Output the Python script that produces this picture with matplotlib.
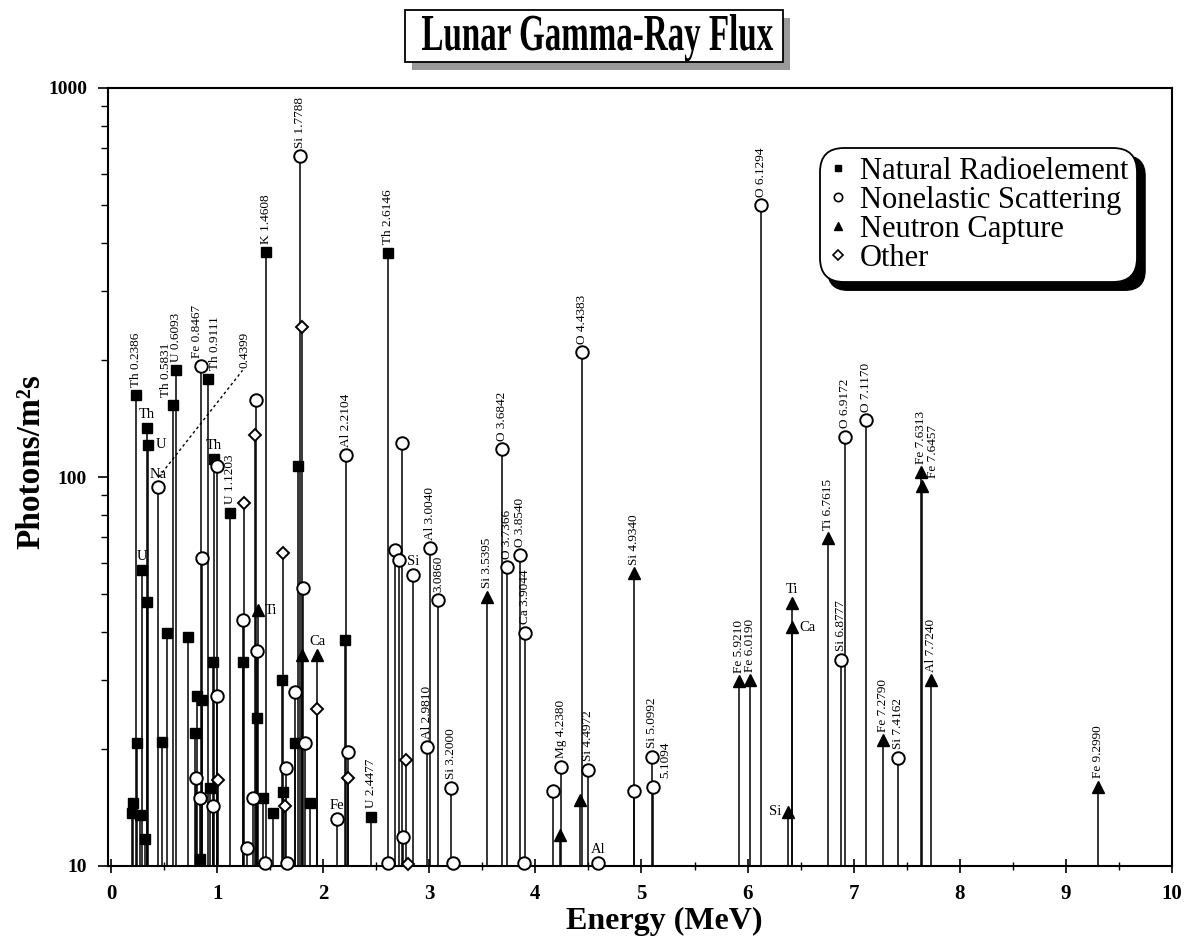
import numpy as np
import matplotlib.pyplot as plt
from matplotlib.lines import Line2D
from matplotlib.patches import FancyBboxPatch, Rectangle, PathPatch
from matplotlib.textpath import TextPath
from matplotlib.font_manager import FontProperties
from matplotlib.transforms import Affine2D
from matplotlib.ticker import NullFormatter, LogLocator

plt.rcParams['font.family'] = ['Liberation Serif', 'DejaVu Serif']

# natural radioelement lines (squares)
rad_e = [0.2386, 0.3384, 0.3519, 0.5831, 0.6093, 0.9111, 0.9689, 1.1203, 1.4608, 1.7645,
         2.2041, 2.4477, 2.6146, 0.2952, 0.34, 0.53, 0.73, 0.81, 0.86, 0.96, 0.79, 0.25,
         0.48, 0.21, 0.20, 0.27, 0.32, 0.84, 0.93, 1.24, 1.38, 1.61, 1.62, 1.73, 1.43, 1.53, 1.88]
rad_f = [162, 134, 121, 153, 188, 179, 111, 81, 378, 107,
         38, 13.4, 377, 57.7, 47.7, 39.7, 38.8, 27.4, 26.7, 33.4, 22, 20.7,
         20.8, 14.5, 13.7, 13.5, 11.7, 10.4, 15.9, 33.4, 24, 30, 15.5, 20.7, 15, 13.7, 14.5]

# nonelastic scattering lines (open circles)
scat_e = [0.4399, 0.8467, 1.7788, 2.2104, 2.9810, 3.0040, 3.0860, 3.2000, 3.6842, 3.7366,
          3.8540, 3.9044, 4.2380, 4.4383, 4.4972, 5.0992, 5.1094, 6.1294, 6.8777, 6.9172,
          7.1170, 7.4162, 1.37, 1.00, 0.86, 1.24, 1.38, 1.00, 1.81, 1.73, 1.83, 1.65, 0.80,
          0.84, 0.96, 1.34, 1.28, 1.45, 1.66, 2.13, 2.23, 2.74, 2.68, 2.71, 2.85, 2.75, 2.61,
          3.22, 3.89, 4.17, 4.59, 4.93]
scat_f = [94, 193, 668, 114, 20.2, 65.6, 48.3, 15.9, 118, 58.7,
          63, 39.8, 18, 209, 17.7, 19.1, 16.0, 500, 33.9, 127,
          140, 19.0, 158, 107, 62, 43, 35.7, 27.4, 51.8, 28, 20.7, 17.9, 16.8,
          15, 14.3, 15, 11.1, 10.2, 10.2, 13.2, 19.6, 122, 64.9, 61.2, 56, 11.9, 10.2,
          10.2, 10.2, 15.6, 10.2, 15.6]

# neutron capture lines (filled triangles)
cap_e = [1.3815, 1.80, 1.9427, 3.5395, 4.23, 4.42, 4.9340, 5.9210, 6.0190, 6.3796,
         6.4185, 6.4195, 6.7615, 7.2790, 7.6313, 7.6457, 7.7240, 9.2990]
cap_f = [45.5, 34.9, 34.9, 49.2, 12.0, 14.8, 56.6, 29.9, 30.0, 13.8,
         47.5, 41.1, 69.7, 21.1, 103, 94.9, 30.0, 16.0]

# other lines (open diamonds)
oth_e = [1.80, 1.36, 1.25, 1.62, 1.94, 1.01, 2.23, 2.78, 2.80, 1.64]
oth_f = [243, 128, 85.7, 63.8, 25.3, 16.6, 16.8, 18.7, 10.1, 14.3]

# rotated line labels: (energy, flux of marker, text)
vlabels = [
    (0.2386, 162, "Th 0.2386"), (0.5831, 153, "Th 0.5831"), (0.6093, 188, "U 0.6093"),
    (0.8467, 193, "Fe 0.8467"), (0.9111, 179, "Th 0.9111"), (1.1203, 81, "U 1.1203"),
    (1.4608, 378, "K 1.4608"), (1.7788, 668, "Si 1.7788"), (2.2104, 114, "Al 2.2104"),
    (2.4477, 13.4, "U 2.4477"), (2.6146, 377, "Th 2.6146"), (2.9810, 20.2, "Al 2.9810"),
    (3.0040, 65.6, "Al 3.0040"), (3.0860, 48.3, "3.0860"), (3.2000, 15.9, "Si 3.2000"),
    (3.5395, 49.2, "Si 3.5395"), (3.6842, 118, "O 3.6842"), (3.7366, 58.7, "O 3.7366"),
    (3.8540, 63, "O 3.8540"), (3.9044, 39.8, "Ca 3.9044"), (4.2380, 18, "Mg 4.2380"),
    (4.4383, 209, "O 4.4383"), (4.4972, 17.7, "Si 4.4972"), (4.9340, 56.6, "Si 4.9340"),
    (5.0992, 19.1, "Si 5.0992"), (5.1094, 16.0, "5.1094"), (5.9210, 29.9, "Fe 5.9210"),
    (6.0190, 30.0, "Fe 6.0190"), (6.1294, 500, "O 6.1294"), (6.7615, 69.7, "Ti 6.7615"),
    (6.8777, 33.9, "Si 6.8777"), (6.9172, 127, "O 6.9172"), (7.1170, 140, "O 7.1170"),
    (7.2790, 21.1, "Fe 7.2790"), (7.4162, 19.0, "Si 7.4162"), (7.6313, 103, "Fe 7.6313"),
    (7.6457, 94.9, "Fe 7.6457"), (7.7240, 30.0, "Al 7.7240"), (9.2990, 16.0, "Fe 9.2990"),
]
# horizontal element labels: (energy, flux, text, side)
hlabels = [
    (0.3384, 134, "Th", "above"), (0.3519, 121, "U", "right"), (0.4399, 94, "Na", "above"),
    (0.2952, 57.7, "U", "above"), (0.9689, 111, "Th", "above"), (1.3815, 45.5, "Ti", "right"),
    (1.9427, 34.9, "Ca", "above"), (2.13, 13.2, "Fe", "above"), (2.85, 56, "Si", "above"),
    (4.59, 10.2, "Al", "above"), (6.3796, 13.8, "Si", "left"), (6.4185, 47.5, "Ti", "above"),
    (6.4195, 41.1, "Ca", "right"),
]
nudge = {"5.1094": 9, "Fe 7.6457": 8, "Th 0.5831": -5, "Fe 0.8467": -3, "Th 0.9111": 5}

fig = plt.figure(figsize=(11.93, 9.42), dpi=100)
ax = fig.add_axes([108 / 1193, 76 / 942, 1064 / 1193, 778 / 942])
ax.set_yscale('log')
ax.set_xlim(-0.028, 10)
ax.set_ylim(10, 1000)

lw = 1.1
ax.vlines(rad_e, 10, rad_f, color='black', lw=lw)
ax.vlines(scat_e, 10, scat_f, color='black', lw=lw)
ax.vlines(cap_e, 10, cap_f, color='black', lw=lw)
ax.vlines(oth_e, 10, oth_f, color='black', lw=lw)

ax.plot(rad_e, rad_f, 's', color='black', ms=7.5, clip_on=False, zorder=3)
ax.plot(scat_e, scat_f, 'o', mfc='white', mec='black', mew=1.4, ms=9, clip_on=False, zorder=3)
ax.plot(cap_e, cap_f, '^', color='black', ms=9, clip_on=False, zorder=3)
ax.plot(oth_e, oth_f, 'D', mfc='white', mec='black', mew=1.4, ms=6, clip_on=False, zorder=3)

for e, f, t in vlabels:
    ax.annotate(t, (e, f), xytext=(nudge.get(t, 0), 6), textcoords='offset points',
                rotation=90, ha='center', va='bottom', fontsize=9.5)

for e, f, t, side in hlabels:
    if side == "above":
        xy, ha, va = (0, 5), 'center', 'bottom'
    elif side == "right":
        xy, ha, va = (5, 0), 'left', 'center'
    else:
        xy, ha, va = (-5, 0), 'right', 'center'
    ax.annotate(t, (e, f), xytext=xy, textcoords='offset points', ha=ha, va=va, fontsize=10.5)

# leader from the Na line to its energy label
ax.plot([0.45, 1.24], [100, 188], ls=(0, (2, 2)), color='black', lw=1)
ax.annotate("0.4399", (1.26, 188), xytext=(0, 2), textcoords='offset points',
            rotation=90, ha='center', va='bottom', fontsize=9.5)

ax.set_xticks(range(11))
ax.set_xticks(np.arange(0.5, 10, 1), minor=True)
ax.set_yticks([10, 100, 1000], ['10', '100', '1000'])
ax.yaxis.set_minor_locator(LogLocator(base=10, subs=np.arange(2, 10)))
ax.yaxis.set_minor_formatter(NullFormatter())
ax.tick_params(axis='x', which='major', direction='inout', length=10, width=1.2, pad=8, labelsize=15)
ax.tick_params(axis='x', which='minor', direction='inout', length=6, width=1)
ax.tick_params(axis='y', which='major', direction='out', length=7, width=1.2, pad=8, labelsize=14)
ax.tick_params(axis='y', which='minor', direction='out', length=5, width=1)
for lab in ax.get_xticklabels() + ax.get_yticklabels():
    lab.set_fontweight('bold')
for s in ax.spines.values():
    s.set_linewidth(1.5)

ax.set_xlabel('Energy (MeV)', fontsize=23, fontweight='bold')
ax.set_ylabel('Photons/m²s', fontsize=24, fontweight='bold')
ax.xaxis.set_label_coords(0.523, -0.052)
ax.yaxis.set_label_coords(-0.058, 0.52)

handles = [
    Line2D([], [], marker='s', ls='none', color='black', ms=5),
    Line2D([], [], marker='o', ls='none', mfc='white', mec='black', mew=1.2, ms=6),
    Line2D([], [], marker='^', ls='none', color='black', ms=6),
    Line2D([], [], marker='D', ls='none', mfc='white', mec='black', mew=1.2, ms=5),
]
names = ['Natural Radioelement', 'Nonelastic Scattering', 'Neutron Capture', 'Other']
leg = ax.legend(handles, names, loc='upper left', bbox_to_anchor=(0.669, 0.923),
                borderaxespad=0, fontsize=22, frameon=True, fancybox=True,
                handlelength=0.6, handletextpad=0.4, labelspacing=0.0,
                borderpad=0.3, framealpha=1)
frame = leg.get_frame()
frame.set_edgecolor('black')
frame.set_linewidth(1.3)
frame.set_boxstyle('round,pad=0,rounding_size=0.8')
leg.set_zorder(6)

fig.canvas.draw()
# legend shadow
lb = frame.get_window_extent()
ax.add_patch(FancyBboxPatch((lb.x0 + 8, lb.y0 - 8), lb.width, lb.height,
                            boxstyle='round,pad=0,rounding_size=20', transform=None,
                            fc='black', ec='black', zorder=5.5, clip_on=False))

# title: condensed bold serif drawn as a path inside a shadowed box (pixel coords)
H = 942
tp = TextPath((0, 0), 'Lunar Gamma-Ray Flux', size=1,
              prop=FontProperties(family='Liberation Serif', weight='bold'))
ext = tp.get_extents()
sx = 351 / ext.width
sy = 34 / 0.655
tr = Affine2D().translate(-ext.x0, 0).scale(sx, sy).translate(422, H - 50)
fig.add_artist(Rectangle((412, H - 70), 378, 52, transform=None, fc='#9a9a9a', ec='none', zorder=2))
fig.add_artist(Rectangle((405, H - 62), 378, 52, transform=None, fc='white', ec='black',
                         lw=1.3, zorder=3))
fig.add_artist(PathPatch(tp, transform=tr, fc='black', ec='none', zorder=4))

fig.savefig('out.png', dpi=100)
